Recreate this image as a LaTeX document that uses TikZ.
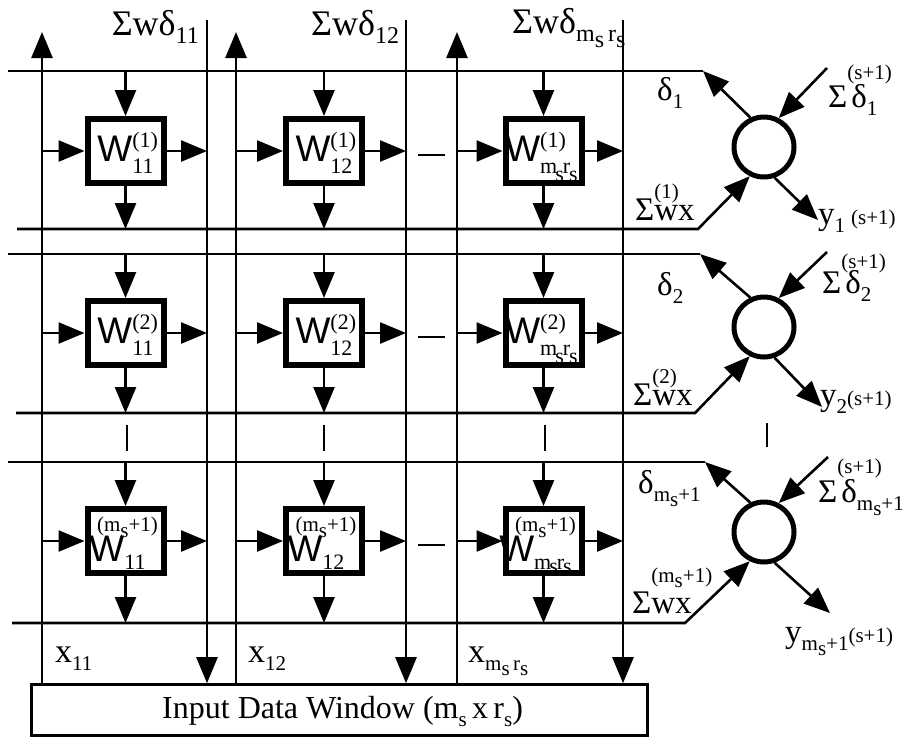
\documentclass[tikz,border=0pt]{standalone}
\usepackage{fontspec}
\setmainfont{Liberation Serif}
\newfontfamily\wfont{Liberation Sans}
\usetikzlibrary{arrows.meta}

% type sizes
\newcommand\bigsz{\fontsize{33}{34}\selectfont}
\newcommand\topsz{\fontsize{36}{38}\selectfont}
\newcommand\xsz{\fontsize{34}{36}\selectfont}
\newcommand\insz{\fontsize{32}{34}\selectfont}
\newcommand\subsz{\fontsize{21}{22}\selectfont}
\newcommand\boxsub{\fontsize{22}{23}\selectfont}
\newcommand\topsub{\fontsize{24}{25}\selectfont}
% lowered index at the small size
\newcommand\lo[1]{\raisebox{-8pt}{\subsz #1}}
\newcommand\tlo[1]{\raisebox{-8pt}{\topsub #1}}
% m_s and m_s r_s at the small size
\newcommand\msub{m\raisebox{-5pt}{s}}
\newcommand\msr{m\kern-2pt\raisebox{-8pt}{s}\kern-1pt r\kern-1pt\raisebox{-8pt}{s}}
\newcommand\msrlow{m\kern-2pt\raisebox{-4pt}{s}\kern-1pt r\kern-1pt\raisebox{-4pt}{s}}
% weight symbol with upper and lower index
\newcommand\Wsym{{\wfont\fontsize{37}{38}\selectfont W}}
\newcommand\wlab[2]{\Wsym\rlap{\raisebox{14pt}{\boxsub #1}}\raisebox{-12pt}{\boxsub #2}}

\tikzset{
  ln/.style={line width=2.6pt},
  tip/.style={ln,-{Triangle[length=26pt,width=21pt]}},
  wbox/.style={draw,line width=6pt,fill=white,minimum width=76pt,minimum height=64pt,inner sep=0pt},
  neuron/.style={draw,circle,line width=5pt,minimum size=60pt,inner sep=0pt,fill=white},
  winbox/.style={draw,line width=2.6pt,minimum width=616pt,minimum height=51pt,inner sep=0pt},
  lbl/.style={inner sep=0pt,anchor=base west,font=\bigsz},
  wl/.style={inner sep=0pt,anchor=base},
}

\begin{document}
\begin{tikzpicture}[x=1pt,y=-1pt]
\useasboundingbox (0,0) rectangle (912,740);

% input window
\node[winbox] (win) at (339.5,710) {};
\node[lbl,font=\insz] (wintext) at (162,718) {Input Data Window (m\lo{s}\,x\,r\lo{s})};

% vertical data / error lines of the three columns
\foreach \c/\lx/\rx in {1/42/207,2/236/406,3/457/623}{
  \coordinate (up\c) at (\lx,32);
  \coordinate (dn\c) at (\rx,20);
  \draw[tip] (up\c |- win.north) -- (up\c);
  \draw[tip] (dn\c) -- (dn\c |- win.north);
}

% rows of weight cells with their output neuron
\foreach \r/\ty/\by/\cy/\ny/\ctx/\cbx/\bsx/\sdx/\sdy/\yox/\yoy in
  {1/71/229/151/147/703/698/17/827/68/818/220,
   2/254/413/333/327/700/695/16/827/252/822/407,
   3/462/623/541/532/705/685/12/828/457/830/613}{
  \coordinate (tl\r) at (8,\ty);
  \coordinate (tc\r) at (\ctx,\ty);
  \coordinate (bl\r) at (\bsx,\by);
  \coordinate (bc\r) at (\cbx,\by);
  \coordinate (sd\r) at (\sdx,\sdy);
  \coordinate (yo\r) at (\yox,\yoy);
  \node[neuron] (n\r) at (764,\ny) {};
  \draw[ln] (tl\r) -- (tc\r);
  \draw[tip] (n\r.115) -- (tc\r);
  \draw[tip] (bl\r) -- (bc\r) -- (n\r.244);
  \draw[tip] (sd\r) -- (n\r.63);
  \draw[tip] (n\r.289) -- (yo\r);
  \foreach \c/\bx in {1/125.5,2/324,3/543.5}{
    \node[wbox] (b\r\c) at (\bx,\cy) {};
    \draw[tip] (b\r\c.north |- tl\r) -- (b\r\c.north);
    \draw[tip] (b\r\c.south) -- (b\r\c.south |- bl\r);
    \draw[tip] (b\r\c.west -| up\c) -- (b\r\c.west);
    \draw[tip] (b\r\c.east) -- (b\r\c.east -| dn\c);
  }
  \draw[line width=2pt] (418,{\cy+4}) -- (445,{\cy+4});
}

% weight labels
\foreach \r in {1,2}{
  \foreach \c/\sub/\dx in {1/11/0,2/12/0,3/\msr/-2}{
    \node[wl] (w\r\c) at ([yshift=-10pt,xshift=\dx pt]b\r\c.center) {\wlab{(\r)}{\sub}};
  }
}
\foreach \c/\sub in {1/11,2/12,3/\msrlow}{
  \node[wl] (w3\c) at ([yshift=-20pt,xshift=-8pt]b3\c.center) {\Wsym\raisebox{-8pt}{\boxsub\sub}};
  \node[wl] (u3\c) at ([yshift=10pt,xshift=2pt]b3\c.center) {\subsz (m\raisebox{-6pt}{s}+1)};
}

% continuation bars between the second and last row
\foreach \x in {127,324,545}{
  \draw[line width=2pt] (\x,425) -- (\x,451);
}
\draw[line width=2pt] (767,423) -- (767,447);

% column labels
\node[lbl,font=\topsz,anchor=base east] (t1) at (199,35) {Σwδ\tlo{11}};
\node[lbl,font=\topsz] (t2) at (311,35) {Σwδ\tlo{12}};
\node[lbl,font=\topsz] (t3) at (512,33) {Σwδ\tlo{m\raisebox{-6pt}{s}\,r\raisebox{-6pt}{s}}};
\node[lbl,font=\xsz] (x1) at (55,662) {x\lo{11}};
\node[lbl,font=\xsz] (x2) at (248,662) {x\lo{12}};
\node[lbl,font=\xsz] (x3) at (468,662) {x\lo{\msub\,r\raisebox{-5pt}{s}}};

% neuron labels, row 1
\node[lbl] (d1) at (657,100) {δ\lo{1}};
\node[lbl] (e1) at (828,107) {Σ\rlap{\raisebox{28pt}{\subsz (s+1)}}\kern4pt δ\lo{1}};
\node[lbl] (s1) at (635,220) {Σ\rlap{\raisebox{22pt}{\subsz (1)}}wx};
\node[lbl] (y1) at (818,224) {y\lo{1}\kern6pt{\subsz (s+1)}};

% row 2
\node[lbl] (d2) at (657,295) {δ\lo{2}};
\node[lbl] (e2) at (822,293) {Σ\rlap{\raisebox{25pt}{\subsz (s+1)}}\kern4pt δ\lo{2}};
\node[lbl] (s2) at (633,405) {Σ\rlap{\raisebox{22pt}{\subsz (2)}}wx};
\node[lbl] (y2) at (820,405) {y\lo{2}{\subsz (s+1)}};

% last row
\node[lbl] (d3) at (638,493) {δ\lo{\msub+1}};
\node[lbl] (e3) at (818,502) {Σ\rlap{\raisebox{29pt}{\subsz (s+1)}}\kern4pt δ\lo{\msub+1}};
\node[lbl] (s3) at (632,613) {Σ\rlap{\raisebox{31pt}{\subsz (m\raisebox{-5pt}{s}+1)}}wx};
\node[lbl] (y3) at (785,642) {y\lo{\msub+1}{\subsz (s+1)}};
\end{tikzpicture}
\end{document}
